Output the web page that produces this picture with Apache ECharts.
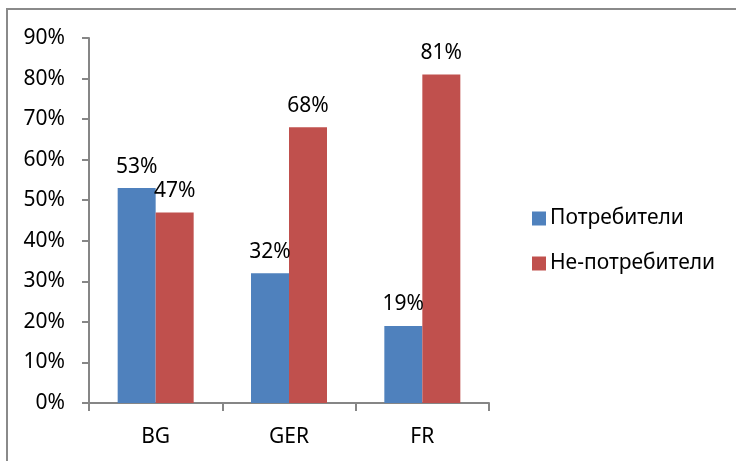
<!DOCTYPE html>
<html>
<head>
<meta charset="utf-8">
<script src="https://cdn.jsdelivr.net/npm/echarts@6/dist/echarts.min.js"></script>
<style>
  html, body { margin: 0; padding: 0; background: #fff; }
  #chart { width: 736px; height: 461px; }
</style>
</head>
<body>
<div id="chart"></div>
<script>
// Countries on the category axis
const categories = ['BG', 'GER', 'FR'];
// Shares in percent
const consumers = [53, 32, 19];
const nonConsumers = [47, 68, 81];
// Value axis range and step (percent)
const yMin = 0;
const yMax = 90;
const yStep = 10;

const FONT = '"Noto Sans", "Open Sans", sans-serif';
const AXIS_GREY = '#868686';

const chart = echarts.init(document.getElementById('chart'), null, { renderer: 'canvas' });

const labelStyle = {
  show: true,
  position: 'top',
  distance: 11,
  formatter: p => p.value + '%',
  color: '#000',
  fontFamily: FONT,
  fontSize: 21
};

chart.setOption({
  backgroundColor: '#fff',
  animation: false,
  textStyle: { fontFamily: FONT },
  graphic: [{
    type: 'rect',
    shape: { x: 7, y: 9, width: 900, height: 600 },
    style: { fill: 'none', stroke: '#8a8a8a', lineWidth: 2 },
    silent: true
  }],
  grid: { left: 89, right: 247, top: 38, bottom: 58, containLabel: false },
  legend: {
    orient: 'vertical',
    left: 527,
    top: 203,
    itemWidth: 14,
    itemHeight: 14,
    itemGap: 24,
    icon: 'rect',
    textStyle: { fontFamily: FONT, fontSize: 21, color: '#000', padding: [0, 0, 0, -1] },
    data: ['Потребители', 'Не-потребители']
  },
  xAxis: {
    type: 'category',
    data: categories,
    axisLine: { show: true, lineStyle: { color: AXIS_GREY, width: 2 } },
    axisTick: { show: true, length: 8, alignWithLabel: false, lineStyle: { color: AXIS_GREY, width: 2 } },
    axisLabel: { color: '#000', fontFamily: FONT, fontSize: 21, margin: 24 },
    splitLine: { show: false }
  },
  yAxis: {
    type: 'value',
    min: yMin,
    max: yMax,
    interval: yStep,
    axisLine: { show: true, lineStyle: { color: AXIS_GREY, width: 2 } },
    axisTick: { show: true, length: 7, lineStyle: { color: AXIS_GREY, width: 2 } },
    axisLabel: { color: '#000', fontFamily: FONT, fontSize: 21, margin: 24, formatter: '{value}%' },
    splitLine: { show: false }
  },
  series: [
    {
      name: 'Потребители',
      type: 'bar',
      data: consumers,
      barWidth: 38,
      barGap: '0%',
      itemStyle: { color: '#4F81BD' },
      label: labelStyle
    },
    {
      name: 'Не-потребители',
      type: 'bar',
      data: nonConsumers,
      barWidth: 38,
      barGap: '0%',
      itemStyle: { color: '#C0504D' },
      label: labelStyle
    }
  ]
});
</script>
</body>
</html>
